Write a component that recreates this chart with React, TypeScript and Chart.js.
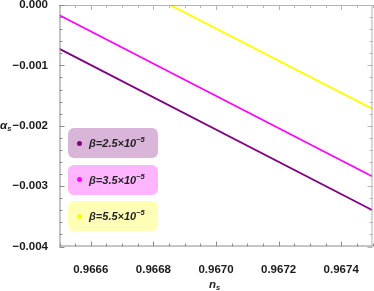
import React, { useEffect, useRef } from "react";
import { Chart, registerables } from "chart.js";

Chart.register(...registerables);

// ---- data ----
const nsEnds = [0.9665, 0.9675];
const alphaBeta25 = [-0.000726, -0.0034];
const alphaBeta35 = [-0.00017, -0.00284];
const alphaBeta55 = [0.00094, -0.00172];
const xTickValues = [0.9666, 0.9668, 0.967, 0.9672, 0.9674];
const yTickValues = [0, -0.001, -0.002, -0.003, -0.004];
const xMinorStep = 0.00005;
const yMinorStep = 0.0002;
const betaLabels = ["2.5", "3.5", "5.5"];
const seriesColors = ["#800080", "#ff00ff", "#ffff00"];
const legendBgs = ["#d9b5d9", "#ffb5ff", "#ffffb5"];

const FONT = "'Liberation Sans', Arial, sans-serif";

const framePlugin = {
  id: "frameTicks",
  afterDraw(chart: any) {
    const { ctx, chartArea } = chart;
    const xs = chart.scales.x;
    const ys = chart.scales.y;
    const { left, right, top, bottom } = chartArea;
    ctx.save();
    ctx.lineWidth = 1;
    // frame
    ctx.strokeStyle = "#b4b4b4";
    ctx.beginPath();
    ctx.moveTo(left, top + 0.5);
    ctx.lineTo(right, top + 0.5);
    ctx.moveTo(right - 0.5, top);
    ctx.lineTo(right - 0.5, bottom);
    ctx.stroke();
    ctx.strokeStyle = "#8c8c8c";
    ctx.beginPath();
    ctx.moveTo(left + 0.5, top);
    ctx.lineTo(left + 0.5, bottom);
    ctx.moveTo(left, bottom - 0.5);
    ctx.lineTo(right, bottom - 0.5);
    ctx.stroke();

    const isMajor = (v: number, arr: number[], step: number) =>
      arr.some((m) => Math.abs(m - v) < step / 10);

    // x ticks
    const nX = Math.round((xs.max - xs.min) / xMinorStep);
    for (let i = 0; i <= nX; i++) {
      const v = xs.min + i * xMinorStep;
      const px = Math.round(xs.getPixelForValue(v)) + 0.5;
      const len = isMajor(v, xTickValues, xMinorStep) ? 5 : 3;
      ctx.strokeStyle = "#8c8c8c";
      ctx.beginPath();
      ctx.moveTo(px, bottom);
      ctx.lineTo(px, bottom - len);
      ctx.stroke();
      ctx.strokeStyle = "#b4b4b4";
      ctx.beginPath();
      ctx.moveTo(px, top);
      ctx.lineTo(px, top + len);
      ctx.stroke();
    }
    // y ticks
    const nY = Math.round((ys.max - ys.min) / yMinorStep);
    for (let i = 0; i <= nY; i++) {
      const v = ys.min + i * yMinorStep;
      const py = Math.round(ys.getPixelForValue(v)) + 0.5;
      const len = isMajor(v, yTickValues, yMinorStep) ? 5 : 3;
      ctx.strokeStyle = "#8c8c8c";
      ctx.beginPath();
      ctx.moveTo(left, py);
      ctx.lineTo(left + len, py);
      ctx.stroke();
      ctx.strokeStyle = "#b4b4b4";
      ctx.beginPath();
      ctx.moveTo(right, py);
      ctx.lineTo(right - len, py);
      ctx.stroke();
    }
    ctx.restore();
  },
};

const fmt = (v: number, d: number) => {
  const s = Math.abs(v) < 1e-12 ? (0).toFixed(d) : v.toFixed(d);
  return s.replace("-", "\u2212");
};

export default function App() {
  const ref = useRef<HTMLCanvasElement | null>(null);

  useEffect(() => {
    document.body.style.margin = "0";
    if (!ref.current) return;
    const series = [alphaBeta25, alphaBeta35, alphaBeta55];
    const chart = new Chart(ref.current, {
      type: "line",
      data: {
        datasets: series.map((vals, i) => ({
          label: "β=" + betaLabels[i] + "×10⁻⁵",
          data: nsEnds.map((x, j) => ({ x, y: vals[j] })),
          borderColor: seriesColors[i],
          backgroundColor: seriesColors[i],
          borderWidth: 1.8,
          pointRadius: 0,
          fill: false,
          tension: 0,
        })),
      },
      options: {
        responsive: false,
        animation: false,
        events: [],
        layout: { padding: { top: 5, right: 1.5, left: 0, bottom: 0 } },
        plugins: {
          legend: { display: false },
          tooltip: { enabled: false },
          title: { display: false },
        },
        scales: {
          x: {
            type: "linear",
            min: nsEnds[0],
            max: nsEnds[1],
            grid: { display: false },
            border: { display: false },
            afterBuildTicks: (s: any) => {
              s.ticks = xTickValues.map((value) => ({ value }));
            },
            afterFit: (s: any) => {
              s.height = 44.5;
              s.paddingLeft = 0;
              s.paddingRight = 0;
            },
            ticks: {
              padding: 8.5,
              maxRotation: 0,
              autoSkip: false,
              color: "#1a1a1a",
              font: { family: FONT, size: 11.5, weight: "bold" },
              callback: (v: any) => fmt(Number(v), 4),
            },
          },
          y: {
            type: "linear",
            min: yTickValues[yTickValues.length - 1],
            max: yTickValues[0],
            grid: { display: false },
            border: { display: false },
            afterBuildTicks: (s: any) => {
              s.ticks = yTickValues.slice().reverse().map((value) => ({ value }));
            },
            afterFit: (s: any) => {
              s.width = 59.5;
              s.paddingTop = 0;
              s.paddingBottom = 0;
            },
            ticks: {
              padding: 3.5,
              autoSkip: false,
              color: "#1a1a1a",
              font: { family: FONT, size: 11.5, weight: "bold" },
              callback: (v: any) => fmt(Number(v), 3),
            },
          },
        },
      },
      plugins: [framePlugin],
    } as any);
    return () => chart.destroy();
  }, []);

  const titleStyle: React.CSSProperties = {
    position: "absolute",
    fontFamily: FONT,
    fontWeight: "bold",
    fontStyle: "italic",
    fontSize: 11.5,
    color: "#222",
    lineHeight: "14px",
    whiteSpace: "nowrap",
  };

  return (
    <div style={{ position: "absolute", left: 0, top: 0, width: 374, height: 291 }}>
      <canvas ref={ref} width={374} height={291} style={{ display: "block" }} />
      <div style={{ ...titleStyle, left: 0, top: 118 }}>
        α<span style={{ fontSize: 7.5, position: "relative", top: 2 }}>s</span>
      </div>
      <div style={{ ...titleStyle, left: 209, top: 277 }}>
        n<span style={{ fontSize: 7.5, position: "relative", top: 2 }}>s</span>
      </div>
      {betaLabels.map((b, i) => (
        <div
          key={b}
          style={{
            position: "absolute",
            left: 68,
            top: 128 + i * 36.5,
            width: 90,
            height: 30,
            borderRadius: 6,
            background: legendBgs[i],
            fontFamily: FONT,
            fontWeight: "bold",
            fontStyle: "italic",
            fontSize: 11,
            color: "#222",
          }}
        >
          <div
            style={{
              position: "absolute",
              left: 8.5,
              top: 12.5,
              width: 5,
              height: 5,
              borderRadius: "50%",
              background: seriesColors[i],
            }}
          />
          <div style={{ position: "absolute", left: 21, top: 8, whiteSpace: "nowrap", lineHeight: "14px" }}>
            β=
            {b}×10
            <span style={{ fontSize: 7.5, position: "relative", top: -5 }}>−5</span>
          </div>
        </div>
      ))}
    </div>
  );
}
